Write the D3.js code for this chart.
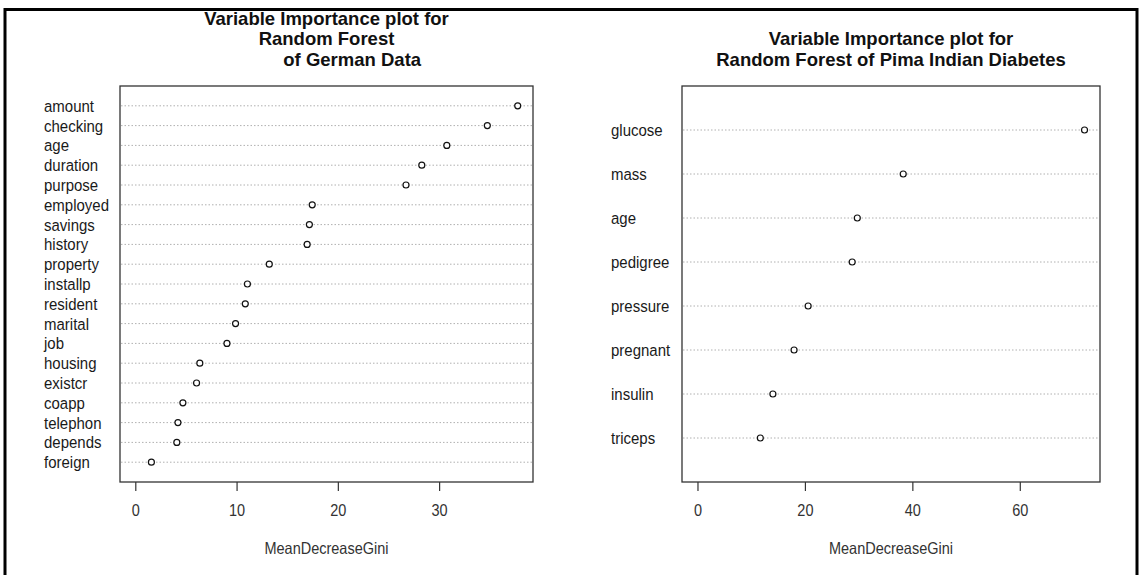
<!DOCTYPE html>
<html>
<head>
<meta charset="utf-8">
<script src="https://cdn.jsdelivr.net/npm/d3@7"></script>
<style>
  html, body { margin: 0; padding: 0; background: #fff; }
  svg { display: block; }
  text { font-family: "Liberation Sans", Arial, sans-serif; }
</style>
</head>
<body>
<svg id="chart" width="1141" height="575"></svg>
<script>
// ---- Data ----
const germanVars = ["amount", "checking", "age", "duration", "purpose", "employed", "savings",
  "history", "property", "installp", "resident", "marital", "job", "housing", "existcr",
  "coapp", "telephon", "depends", "foreign"];
const germanGini = [37.76, 34.76, 30.76, 28.29, 26.73, 17.47, 17.19, 16.97, 13.23, 11.07,
  10.86, 9.90, 9.05, 6.37, 6.05, 4.70, 4.21, 4.10, 1.59];
const germanTicks = [0, 10, 20, 30];
const germanTitle = ["Variable Importance plot for", "Random Forest", "          of German Data"];

const pimaVars = ["glucose", "mass", "age", "pedigree", "pressure", "pregnant", "insulin", "triceps"];
const pimaGini = [72.05, 38.3, 29.75, 28.8, 20.6, 17.98, 14.04, 11.7];
const pimaTicks = [0, 20, 40, 60];
const pimaTitle = ["Variable Importance plot for", "Random Forest of Pima Indian Diabetes"];

const xLabel = "MeanDecreaseGini";

// ---- Drawing ----
const svg = d3.select("#chart");
const STRETCH = 1.15;

// outer frame
svg.append("rect")
  .attr("x", 5).attr("y", 9.5)
  .attr("width", 1132).attr("height", 600)
  .attr("fill", "none").attr("stroke", "#000").attr("stroke-width", 3);

function panel(cfg) {
  const { vars, vals, ticks, title, box, labelX, titleY } = cfg;
  const n = vars.length;
  const maxV = d3.max(vals);
  const x = d3.scaleLinear()
    .domain([0 - 0.04 * maxV, maxV * 1.04])
    .range([box.x0, box.x1]);
  const y = d3.scaleLinear()
    .domain([0, n + 1])
    .range([box.y1, box.y0]);

  const g = svg.append("g");

  // title
  const cx = (box.x0 + box.x1) / 2;
  g.selectAll("text.title").data(title).enter().append("text")
    .attr("class", "title")
    .attr("x", cx)
    .attr("y", (d, i) => titleY[i])
    .attr("text-anchor", "middle")
    .style("white-space", "pre")
    .attr("font-size", "18.5px")
    .attr("font-weight", "bold")
    .attr("fill", "#111")
    .text(d => d);

  // dotted lines
  g.selectAll("line.row").data(vars).enter().append("line")
    .attr("class", "row")
    .attr("x1", box.x0 + 1).attr("x2", box.x1 - 1)
    .attr("y1", (d, i) => y(n - i)).attr("y2", (d, i) => y(n - i))
    .attr("stroke", "#b0b0b0").attr("stroke-width", 1)
    .attr("stroke-dasharray", "1.5,2");

  // labels
  g.selectAll("text.lab").data(vars).enter().append("text")
    .attr("class", "lab")
    .attr("transform", (d, i) => `translate(${labelX},${y(n - i) + 6}) scale(1,${STRETCH})`)
    .attr("font-size", "15px")
    .attr("fill", "#1a1a1a")
    .text(d => d);

  // points
  g.selectAll("circle").data(vals).enter().append("circle")
    .attr("cx", d => x(d))
    .attr("cy", (d, i) => y(n - i))
    .attr("r", 3)
    .attr("fill", "#fff")
    .attr("stroke", "#111")
    .attr("stroke-width", 1.2);

  // box
  g.append("rect")
    .attr("x", box.x0).attr("y", box.y0)
    .attr("width", box.x1 - box.x0).attr("height", box.y1 - box.y0)
    .attr("fill", "none").attr("stroke", "#333").attr("stroke-width", 1.3);

  // x axis
  const axis = d3.axisBottom(x).tickValues(ticks).tickSize(9)
    .tickFormat(d3.format("d"));
  const ag = g.append("g").attr("transform", `translate(0,${box.y1})`).call(axis);
  ag.select(".domain").remove();
  ag.selectAll(".tick line").attr("stroke", "#333").attr("stroke-width", 1.2);
  ag.selectAll(".tick text")
    .attr("y", 0).attr("dy", null)
    .attr("transform", `translate(0,34) scale(1,${STRETCH})`)
    .attr("font-size", "14.5px")
    .attr("fill", "#333")
    .attr("font-family", "\"Liberation Sans\", Arial, sans-serif");

  // x label
  g.append("text")
    .attr("transform", `translate(${cx},554) scale(1,${STRETCH})`)
    .attr("text-anchor", "middle")
    .attr("font-size", "14.5px")
    .attr("fill", "#333")
    .text(xLabel);
}

panel({
  vars: germanVars, vals: germanGini, ticks: germanTicks, title: germanTitle,
  box: { x0: 120, x1: 533, y0: 86, y1: 482 }, labelX: 44, titleY: [24.5, 45, 65.5]
});

panel({
  vars: pimaVars, vals: pimaGini, ticks: pimaTicks, title: pimaTitle,
  box: { x0: 682, x1: 1100, y0: 86, y1: 482 }, labelX: 611, titleY: [45, 66]
});
</script>
</body>
</html>
